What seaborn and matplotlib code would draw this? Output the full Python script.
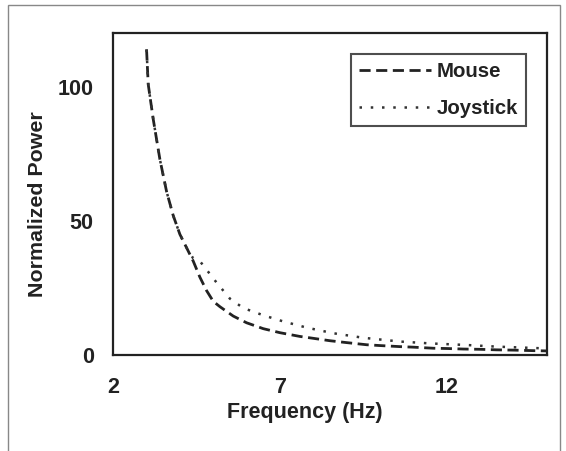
import pandas as pd
import seaborn as sns
import matplotlib.pyplot as plt
from matplotlib.patches import Rectangle

# values
mouse_freq = [3.0, 3.05, 3.2, 3.4, 3.6, 3.8, 4.0, 4.2, 4.4, 4.6, 4.8, 5.0, 5.2,
              5.6, 6.0, 6.5, 7.0, 7.6, 8.0, 8.5, 9.0, 9.6, 10.0, 10.6, 11.0, 11.6,
              12.0, 12.5, 13.0, 13.5, 14.0, 14.6, 15.0]
mouse_power = [114, 101, 88, 73, 61, 52, 45, 40, 35, 29, 24, 20, 18,
               14.5, 12, 9.8, 8.3, 6.9, 6.2, 5.3, 4.6, 3.8, 3.5, 3.1, 2.9, 2.5,
               2.4, 2.2, 2.1, 1.9, 1.8, 1.6, 1.5]

joy_freq = [3.0, 3.05, 3.2, 3.4, 3.6, 3.8, 4.0, 4.2, 4.4, 4.6, 5.1, 5.5, 5.9,
            6.5, 7.1, 7.8, 8.6, 9.5, 10.6, 11.5, 12.6, 13.5, 14.6, 15.0]
joy_power = [114, 101, 88, 73, 61, 52, 45, 40, 36, 35, 27, 21, 17.5,
             14.8, 12.5, 10.2, 8.1, 6.4, 5.0, 4.3, 3.7, 3.1, 2.6, 2.4]

x_ticks = [2, 7, 12]
y_ticks = [0, 50, 100]

sns.set_style("white")
plt.rcParams['font.family'] = ['Liberation Sans', 'DejaVu Sans']
plt.rcParams['font.weight'] = 'bold'

mouse = pd.DataFrame({'Frequency': mouse_freq, 'Power': mouse_power})
joy = pd.DataFrame({'Frequency': joy_freq, 'Power': joy_power})

fig = plt.figure(figsize=(5.66, 4.51), dpi=100)
ax = fig.add_axes([0.2, 0.213, 0.766, 0.713])

sns.lineplot(data=mouse, x='Frequency', y='Power', ax=ax, color='#222222',
             linestyle=(0, (4, 2)), linewidth=2.0, label='Mouse')
sns.lineplot(data=joy, x='Frequency', y='Power', ax=ax, color='#333333',
             linestyle=(0, (1, 3.5)), linewidth=1.8, label='Joystick')

ax.set_xlim(2, 15)
ax.set_ylim(0, 120)
ax.set_xticks(x_ticks)
ax.set_yticks(y_ticks)
ax.set_xlabel('Frequency (Hz)', fontsize=15.5, fontweight='bold', color='#222222')
ax.set_ylabel('Normalized Power', fontsize=15.4, fontweight='bold', color='#222222')
ax.xaxis.set_label_coords(0.441, -0.145)
ax.yaxis.set_label_coords(-0.153, 0.47)
ax.tick_params(axis='both', labelsize=15.5, colors='#222222')
ax.tick_params(axis='x', direction='inout', length=8, width=1.2, pad=12)
ax.tick_params(axis='y', direction='out', length=6, width=1.2, pad=8)
for lab in ax.get_xticklabels() + ax.get_yticklabels():
    lab.set_fontweight('bold')
for s in ax.spines.values():
    s.set_linewidth(1.6)
    s.set_color('#222222')

leg = ax.legend(loc='upper right', prop={'size': 14.7, 'weight': 'bold'},
                handlelength=3.5, frameon=True, fancybox=False,
                borderaxespad=1.0, labelspacing=0.9, handletextpad=0.3,
                borderpad=0.4)
leg.get_frame().set_edgecolor('#222222')
leg.get_frame().set_linewidth(1.5)
for t in leg.get_texts():
    t.set_color('#222222')

# outer frame of the scanned figure
fig.patches.append(Rectangle((0.014, -0.05), 0.975, 1.038, transform=fig.transFigure,
                             fill=False, edgecolor='#888888', linewidth=1.0))

fig.savefig('out.png', dpi=100)
